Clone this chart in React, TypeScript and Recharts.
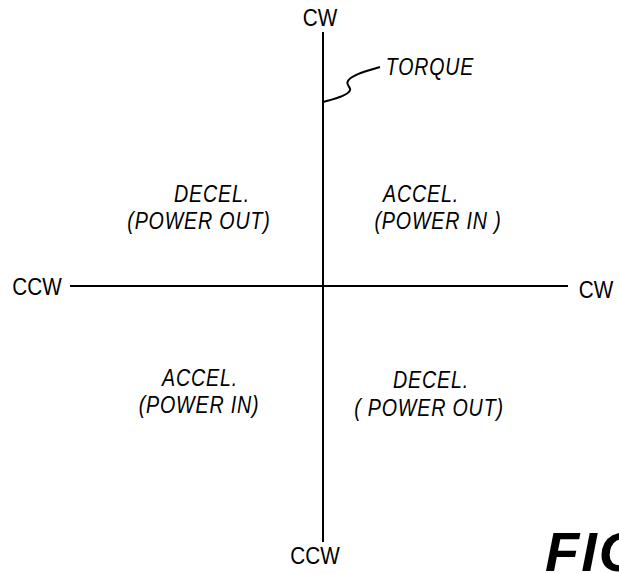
import React from 'react';
import { ComposedChart, XAxis, YAxis, Scatter, Line, ReferenceLine } from 'recharts';

// Coordinates are in drawing units, origin at the crossing of the two axes.
const quadrantLabels = [
  { x: -111, y: 92, label: 'DECEL.' },
  { x: -124, y: 65, label: '(POWER OUT)' },
  { x: 98, y: 92, label: 'ACCEL.' },
  { x: 115, y: 65, label: '(POWER IN )' },
  { x: -123, y: -92, label: 'ACCEL.' },
  { x: -124, y: -119, label: '(POWER IN)' },
  { x: 108, y: -94, label: 'DECEL.' },
  { x: 106, y: -122, label: '( POWER OUT)' },
];

const axisEndLabels = [
  { x: -3, y: 268, label: 'CW' },
  { x: -286, y: -1, label: 'CCW' },
  { x: 273, y: -4, label: 'CW' },
  { x: -8, y: -270, label: 'CCW' },
];

const torqueLabel = [{ x: 107, y: 219, label: 'TORQUE' }];

const torqueLeader = [
  { x: 0, y: 184 },
  { x: 22, y: 190 },
  { x: 30, y: 197 },
  { x: 21, y: 203 },
  { x: 32, y: 212 },
  { x: 57, y: 219 },
];

const figLabel = [{ x: 222, y: -265, label: 'FIG. 3' }];

const verticalAxisSpan = [254, -256];
const horizontalAxisSpan = [-253, 245];

const X_DOMAIN = [-323, 296];
const Y_DOMAIN = [-288, 286];

const FONT = '"Liberation Sans", Arial, sans-serif';

const makeText = (size: number, italic: boolean, weight: string, anchor: string, spacing: number, squeeze: number) =>
  (props: any) => {
    const { cx, cy, payload } = props;
    return (
      <text
        x={0}
        y={0}
        transform={`translate(${cx},${cy}) scale(${squeeze},1)`}
        textAnchor={anchor}
        dominantBaseline="central"
        fontFamily={FONT}
        fontSize={size}
        fontStyle={italic ? 'italic' : 'normal'}
        fontWeight={weight}
        letterSpacing={spacing}
        fill="#000"
      >
        {payload.label}
      </text>
    );
  };

export default function App() {
  return (
    <div style={{ position: 'absolute', left: 0, top: 0, background: '#fff' }}>
      <ComposedChart width={619} height={574} margin={{ top: 0, right: 0, bottom: 0, left: 0 }}>
        <XAxis type="number" dataKey="x" domain={X_DOMAIN} hide allowDataOverflow />
        <YAxis type="number" dataKey="y" domain={Y_DOMAIN} hide allowDataOverflow />
        <ReferenceLine
          segment={[{ x: 0, y: verticalAxisSpan[0] }, { x: 0, y: verticalAxisSpan[1] }]}
          stroke="#000"
          strokeWidth={2}
          ifOverflow="visible"
        />
        <ReferenceLine
          segment={[{ x: horizontalAxisSpan[0], y: 0 }, { x: horizontalAxisSpan[1], y: 0 }]}
          stroke="#000"
          strokeWidth={2}
          ifOverflow="visible"
        />
        <Line
          data={torqueLeader}
          dataKey="y"
          type="basis"
          stroke="#000"
          strokeWidth={2}
          dot={false}
          isAnimationActive={false}
        />
        <Scatter data={quadrantLabels} shape={makeText(24, true, 'normal', 'middle', 1, 0.82)} isAnimationActive={false} />
        <Scatter data={axisEndLabels} shape={makeText(23, false, 'normal', 'middle', 0, 0.9)} isAnimationActive={false} />
        <Scatter data={torqueLabel} shape={makeText(23, true, 'normal', 'middle', 1, 0.85)} isAnimationActive={false} />
        <Scatter data={figLabel} shape={makeText(56, true, 'bold', 'start', 2, 1)} isAnimationActive={false} />
      </ComposedChart>
    </div>
  );
}
